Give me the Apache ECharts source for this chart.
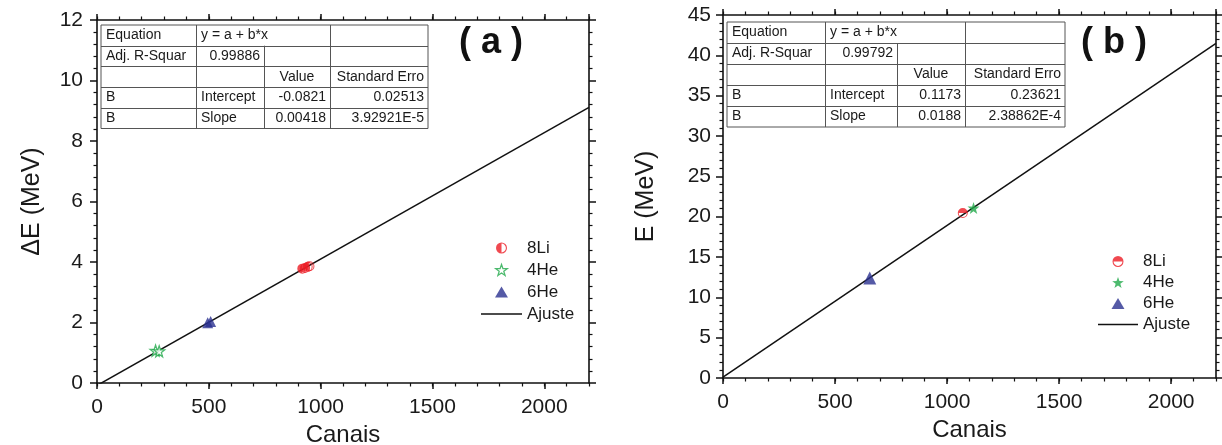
<!DOCTYPE html>
<html>
<head>
<meta charset="utf-8">
<script src="https://cdn.jsdelivr.net/npm/echarts@6/dist/echarts.min.js"></script>
<style>
html, body { margin: 0; padding: 0; background: #fff; }
#main { width: 1222px; height: 445px; }
</style>
</head>
<body>
<div id="main"></div>
<script>
// painel (a): Delta E x canais
var li8A = [[918, 3.78], [930, 3.80], [942, 3.84], [950, 3.86]];
var he4A = [[262, 1.07], [278, 1.05]];
var he6A = [[495, 1.99], [508, 2.03]];
var fitA = [[0, -0.0821], [2200, 9.11]];

// painel (b): E x canais
var li8B = [[1070, 20.45]];
var he4B = [[1118, 21.07]];
var he6B = [[655, 12.4]];
var fitB = [[0, 0.1173], [2200, 41.47]];

var legendNames = ['8Li', '4He', '6He', 'Ajuste'];

var tableA = [
  ['Equation', 'y = a + b*x', '', ''],
  ['Adj. R-Squar', '0.99886', '', ''],
  ['', '', 'Value', 'Standard Erro'],
  ['B', 'Intercept', '-0.0821', '0.02513'],
  ['B', 'Slope', '0.00418', '3.92921E-5']
];
var tableB = [
  ['Equation', 'y = a + b*x', '', ''],
  ['Adj. R-Squar', '0.99792', '', ''],
  ['', '', 'Value', 'Standard Erro'],
  ['B', 'Intercept', '0.1173', '0.23621'],
  ['B', 'Slope', '0.0188', '2.38862E-4']
];

var red = '#ec1c24', green = '#20a94a', navy = '#2b3190';
var font = 'Liberation Sans';

var halfLeft = 'path://M0,10A10,10 0 1,1 20,10A10,10 0 1,1 0,10ZM2,10A8,8 0 1,0 18,10A8,8 0 1,0 2,10ZM10,2A8,8 0 0,0 10,18Z';
var halfTop = 'path://M0,10A10,10 0 1,1 20,10A10,10 0 1,1 0,10ZM2,10A8,8 0 1,0 18,10A8,8 0 1,0 2,10ZM2,10A8,8 0 0,1 18,10Z';
var star = 'path://M10,0L12.35,6.76L19.51,6.91L13.80,11.24L15.88,18.09L10,14L4.12,18.09L6.20,11.24L0.49,6.91L7.65,6.76Z';
var tri = 'path://M10,0L20,17L0,17Z';
var dash = 'path://M0,0L40,0L40,1.5L0,1.5Z';

var dom = document.getElementById('main');
var myChart = echarts.init(dom, null, { renderer: 'canvas' });

var lineCol = { color: '#111', width: 1.6 };
var plain = function (v) { return String(v); };

function xMajor(g, pos, nameGap) {
  var labels = pos === 'bottom';
  return {
    type: 'value', gridIndex: g, position: pos, min: 0, max: 2200, interval: 500,
    name: labels ? 'Canais' : '', nameLocation: 'middle', nameGap: nameGap,
    nameTextStyle: { fontFamily: font, fontSize: 24, color: '#1a1a1a' },
    axisLine: { show: true, onZero: false, lineStyle: lineCol },
    axisTick: { show: true, length: 6, lineStyle: { color: '#111', width: 1.5 } },
    axisLabel: { show: labels, margin: 14, showMaxLabel: false, formatter: plain, fontFamily: font, fontSize: 21, color: '#1a1a1a' },
    splitLine: { show: false }
  };
}
function xMinor(g, pos) {
  return {
    type: 'value', gridIndex: g, position: pos, min: 0, max: 2200, interval: 100,
    axisLine: { show: false, onZero: false },
    axisTick: { show: true, length: 3.5, lineStyle: { color: '#111', width: 1.2 } },
    axisLabel: { show: false },
    splitLine: { show: false }
  };
}
function yAxis(g, pos, max, interval, name, nameGap, margin) {
  var labels = pos === 'left';
  return {
    type: 'value', gridIndex: g, position: pos, min: 0, max: max, interval: interval,
    name: labels ? name : '', nameLocation: 'middle', nameGap: nameGap,
    nameTextStyle: { fontFamily: font, fontSize: 25, color: '#1a1a1a' },
    axisLine: { show: true, onZero: false, lineStyle: lineCol },
    axisTick: { show: true, length: 7, lineStyle: { color: '#111', width: 1.5 } },
    minorTick: { show: true, splitNumber: 5, length: 3.5, lineStyle: { color: '#111', width: 1.2 } },
    axisLabel: { show: labels, margin: margin, formatter: plain, fontFamily: font, fontSize: 21, color: '#1a1a1a' },
    splitLine: { show: false }
  };
}

function tableGraphic(rows, xs, top, rowH) {
  var els = [];
  var w = xs[xs.length - 1] - xs[0];
  var h = rows.length * rowH;
  var st = { stroke: '#555', lineWidth: 1 };
  els.push({ type: 'rect', shape: { x: xs[0], y: top, width: w, height: h }, style: { fill: '#fff', stroke: '#555', lineWidth: 1 } });
  for (var r = 1; r < rows.length; r++) {
    var yy = Math.round(top + r * rowH) + 0.5;
    els.push({ type: 'line', shape: { x1: xs[0], y1: yy, x2: xs[4], y2: yy }, style: st });
  }
  [1, 2, 3].forEach(function (c) {
    var y1 = c === 2 ? top + rowH : top;
    els.push({ type: 'line', shape: { x1: xs[c] + 0.5, y1: y1, x2: xs[c] + 0.5, y2: top + h }, style: st });
  });
  rows.forEach(function (row, r) {
    row.forEach(function (txt, c) {
      if (!txt) return;
      var align = 'left';
      var x = xs[c] + 5;
      if ((c === 1 && r === 1) || c === 3 || (c === 2 && r !== 2)) { align = 'right'; x = xs[c + 1] - 4; }
      if (c === 2 && r === 2) { align = 'center'; x = (xs[c] + xs[c + 1]) / 2; }
      els.push({
        type: 'text', x: x, y: top + r * rowH + rowH / 2,
        style: { text: txt, fill: '#1a1a1a', font: '14px "Liberation Sans"', align: align, verticalAlign: 'middle' }
      });
    });
  });
  return els;
}

var scatterBase = function (name, data, xi, yi, symbol, size, style) {
  return { name: name, type: 'scatter', xAxisIndex: xi, yAxisIndex: yi, data: data, symbol: symbol, symbolSize: size, itemStyle: style, z: 3 };
};

var option = {
  animation: false,
  tooltip: { trigger: 'item' },
  grid: [
    { left: 97, right: 633, top: 20, bottom: 62, outerBoundsMode: 'none' },
    { left: 723, right: 6, top: 15, bottom: 67, outerBoundsMode: 'none' }
  ],
  xAxis: [
    xMajor(0, 'bottom', 34), xMinor(0, 'bottom'), xMajor(0, 'top', 0), xMinor(0, 'top'),
    xMajor(1, 'bottom', 40), xMinor(1, 'bottom'), xMajor(1, 'top', 0), xMinor(1, 'top')
  ],
  yAxis: [
    yAxis(0, 'left', 12, 2, '\u0394E (MeV)', 52, 14), yAxis(0, 'right', 12, 2, '', 0, 0),
    yAxis(1, 'left', 45, 5, 'E (MeV)', 64, 12), yAxis(1, 'right', 45, 5, '', 0, 0)
  ],
  legend: [
    {
      orient: 'vertical', left: 476, top: 234.5, itemWidth: 41, itemHeight: 11, itemGap: 5,
      textStyle: { fontFamily: font, fontSize: 17, lineHeight: 17, color: '#1a1a1a' },
      data: [
        { name: legendNames[0], icon: halfLeft, itemStyle: { color: red } },
        { name: legendNames[1], icon: star, itemStyle: { color: '#fff', borderColor: green, borderWidth: 1.3 } },
        { name: legendNames[2], icon: tri, itemStyle: { color: navy } },
        { name: legendNames[3], icon: dash, itemStyle: { color: '#111', borderWidth: 0 } }
      ]
    },
    {
      orient: 'vertical', left: 1093, top: 248, itemWidth: 40, itemHeight: 11, itemGap: 4,
      textStyle: { fontFamily: font, fontSize: 17, lineHeight: 17, color: '#1a1a1a' },
      data: [
        { name: legendNames[0], icon: halfTop, itemStyle: { color: red, borderWidth: 0 } },
        { name: legendNames[1], icon: star, itemStyle: { color: green, borderWidth: 0 } },
        { name: legendNames[2], icon: tri, itemStyle: { color: navy } },
        { name: legendNames[3], icon: dash, itemStyle: { color: '#111', borderWidth: 0 } }
      ]
    }
  ],
  graphic: tableGraphic(tableA, [101, 196, 264, 330, 428], 25, 20.7)
    .concat(tableGraphic(tableB, [727, 825, 897, 965, 1065], 22, 21))
    .concat([
      { type: 'text', x: 491, y: 43, style: { text: '( a )', font: 'bold 36px "Liberation Sans"', fill: '#111', align: 'center', verticalAlign: 'middle' } },
      { type: 'text', x: 1114, y: 43, style: { text: '( b )', font: 'bold 36px "Liberation Sans"', fill: '#111', align: 'center', verticalAlign: 'middle' } }
    ]),
  series: [
    { name: 'Ajuste', type: 'line', xAxisIndex: 0, yAxisIndex: 0, data: fitA, symbol: 'none', clip: true, lineStyle: { color: '#111', width: 1.5 }, z: 2 },
    scatterBase('8Li', li8A, 0, 0, halfLeft, 10, { color: red }),
    scatterBase('4He', he4A, 0, 0, star, 11, { color: '#fff', borderColor: green, borderWidth: 1.3 }),
    scatterBase('6He', he6A, 0, 0, tri, 11, { color: navy }),
    { name: 'Ajuste', type: 'line', xAxisIndex: 4, yAxisIndex: 2, data: fitB, symbol: 'none', clip: true, lineStyle: { color: '#111', width: 1.5 }, z: 2 },
    scatterBase('8Li', li8B, 4, 2, halfTop, 10, { color: red }),
    scatterBase('4He', he4B, 4, 2, star, 12, { color: green }),
    scatterBase('6He', he6B, 4, 2, tri, 13, { color: navy })
  ]
};

if (option && typeof option === 'object') {
  myChart.setOption(option);
}

window.addEventListener('resize', myChart.resize);
</script>
</body>
</html>
